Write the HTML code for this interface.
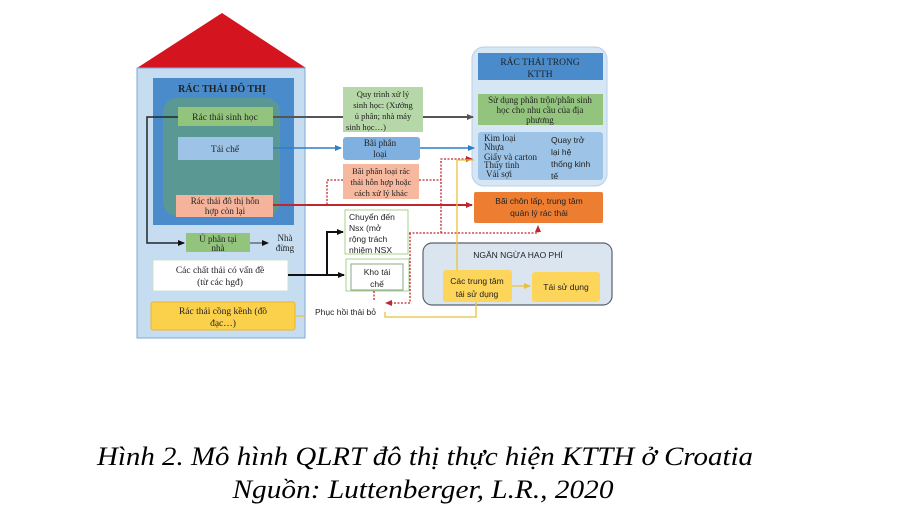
<!DOCTYPE html>
<html><head><meta charset="utf-8"><style>
html,body{margin:0;padding:0;background:#fff;width:899px;height:519px;overflow:hidden}
svg{display:block}
text{font-family:"Liberation Serif","Noto Serif CJK SC",serif;fill:#222}
.s{font-family:"Liberation Sans","Noto Sans CJK SC",sans-serif}
</style></head><body>
<svg width="899" height="519" viewBox="0 0 899 519" xmlns="http://www.w3.org/2000/svg">
<defs>
<marker id="ak" markerUnits="userSpaceOnUse" markerWidth="7" markerHeight="7" refX="6" refY="3.5" orient="auto"><path d="M0,0.5 L7,3.5 L0,6.5z" fill="#111"/></marker>
<marker id="ag" markerUnits="userSpaceOnUse" markerWidth="7" markerHeight="7" refX="6" refY="3.5" orient="auto"><path d="M0,0.5 L7,3.5 L0,6.5z" fill="#555"/></marker>
<marker id="ab" markerUnits="userSpaceOnUse" markerWidth="7" markerHeight="7" refX="6" refY="3.5" orient="auto"><path d="M0,0.5 L7,3.5 L0,6.5z" fill="#2f7fc8"/></marker>
<marker id="ar" markerUnits="userSpaceOnUse" markerWidth="7" markerHeight="7" refX="6" refY="3.5" orient="auto"><path d="M0,0.5 L7,3.5 L0,6.5z" fill="#c0262d"/></marker>
<marker id="ay" markerUnits="userSpaceOnUse" markerWidth="7" markerHeight="7" refX="6" refY="3.5" orient="auto"><path d="M0,0.5 L7,3.5 L0,6.5z" fill="#e8c23a"/></marker>
</defs>
<polygon points="137,68 222,13 306,68" fill="#d4151f"/>
<rect x="137" y="68" width="168" height="270" fill="#c5dcf1" stroke="#7fa9d6" stroke-width="1"/>
<rect x="153" y="78" width="141" height="147" fill="#4a8bcc"/>
<text x="222" y="92" font-size="10" text-anchor="middle" font-weight="bold">RÁC THẢI ĐÔ THỊ</text>
<rect x="163" y="98" width="117" height="118" rx="14" fill="#5a9893"/>
<rect x="178" y="107" width="95" height="19" fill="#93c47d"/>
<text x="225" y="120" font-size="9.5" text-anchor="middle">Rác thải sinh học</text>
<rect x="178" y="137" width="95" height="23" fill="#9dc3e6"/>
<text x="225" y="152" font-size="9.5" text-anchor="middle">Tái chế</text>
<rect x="176" y="195" width="97" height="22" fill="#f4b39a"/>
<text x="225" y="204" font-size="9" text-anchor="middle">Rác thải đô thị hỗn</text>
<text x="225" y="214" font-size="9" text-anchor="middle">hợp còn lại</text>
<rect x="186" y="233" width="64" height="19" fill="#93c47d"/>
<text x="218" y="242" font-size="9" text-anchor="middle">Ủ phân tại</text>
<text x="218" y="251" font-size="9" text-anchor="middle">nhà</text>
<text x="285" y="241" font-size="9" text-anchor="middle">Nhà</text>
<text x="285" y="251" font-size="9" text-anchor="middle">đừng</text>
<rect x="153" y="260" width="135" height="31" fill="#fff" stroke="#cde0cd"/>
<text x="220" y="273" font-size="9.5" text-anchor="middle">Các chất thải có vấn đề</text>
<text x="220" y="285" font-size="9.5" text-anchor="middle">(từ các hgđ)</text>
<rect x="151" y="302" width="144" height="28" rx="2" fill="#fbd04a" stroke="#e8b830"/>
<text x="223" y="314" font-size="9.5" text-anchor="middle">Rác thải cồng kềnh (đồ</text>
<text x="223" y="326" font-size="9.5" text-anchor="middle">đạc…)</text>
<rect x="343" y="87" width="80" height="45" fill="#b6d7a8"/>
<text x="383" y="97" font-size="8.5" text-anchor="middle">Quy trình xử lý</text>
<text x="383" y="108" font-size="8.5" text-anchor="middle">sinh học: (Xưởng</text>
<text x="383" y="119" font-size="8.5" text-anchor="middle">ủ phân; nhà máy</text>
<text x="366" y="130" font-size="8.5" text-anchor="middle">sinh học…)</text>
<rect x="343" y="137" width="77" height="23" rx="3" fill="#7fb0e0"/>
<text x="380" y="146" font-size="9" text-anchor="middle">Bãi phân</text>
<text x="380" y="157" font-size="9" text-anchor="middle">loại</text>
<rect x="343" y="164" width="76" height="35" fill="#f6b89e"/>
<text x="381" y="174" font-size="8.5" text-anchor="middle">Bãi phân loại rác</text>
<text x="381" y="185" font-size="8.5" text-anchor="middle">thải hỗn hợp hoặc</text>
<text x="381" y="196" font-size="8.5" text-anchor="middle">cách xử lý khác</text>
<rect x="345" y="210" width="63" height="44" fill="#fff" stroke="#a9d18e"/>
<text class="s" x="349" y="220" font-size="8.5">Chuyển đến</text>
<text class="s" x="349" y="231" font-size="8.5">Nsx      (mở</text>
<text class="s" x="349" y="242" font-size="8.5">rộng   trách</text>
<text class="s" x="349" y="253" font-size="8.5">nhiệm NSX</text>
<rect x="346" y="259" width="63" height="32" fill="#fff" stroke="#a9d18e"/>
<rect x="351" y="264" width="52" height="26" fill="#fff" stroke="#8aa88a"/>
<text class="s" x="377" y="275" font-size="8.5" text-anchor="middle">Kho tái</text>
<text class="s" x="377" y="287" font-size="8.5" text-anchor="middle">chế</text>
<text class="s" x="315" y="315" font-size="8.5">Phục hồi thải bỏ</text>
<rect x="472" y="47" width="135" height="139" rx="12" fill="#d7e6f4" stroke="#b8cfe6"/>
<rect x="478" y="53" width="125" height="27" fill="#4a8bcc"/>
<text x="540" y="65" font-size="9.5" text-anchor="middle">RÁC THẢI TRONG</text>
<text x="540" y="77" font-size="9.5" text-anchor="middle">KTTH</text>
<rect x="478" y="94" width="125" height="31" fill="#93c47d"/>
<text x="540" y="103" font-size="9" text-anchor="middle">Sử dụng phân trộn/phân sinh</text>
<text x="540" y="113" font-size="9" text-anchor="middle">học cho nhu cầu của địa</text>
<text x="540" y="123" font-size="9" text-anchor="middle">phương</text>
<rect x="478" y="132" width="125" height="48" rx="3" fill="#9dc3e6"/>
<text x="484" y="141" font-size="9">Kim loại</text>
<text x="484" y="150" font-size="9">Nhựa</text>
<text x="484" y="160" font-size="9">Giấy và carton</text>
<text x="484" y="168" font-size="9">Thủy tinh</text>
<text x="486" y="177" font-size="9">Vải sợi</text>
<text class="s" x="551" y="143" font-size="8.5">Quay    trở</text>
<text class="s" x="551" y="155" font-size="8.5">lại         hệ</text>
<text class="s" x="551" y="167" font-size="8.5">thống kinh</text>
<text class="s" x="551" y="179" font-size="8.5">tế</text>
<rect x="474" y="192" width="129" height="31" rx="2" fill="#ed7d31"/>
<text class="s" x="539" y="204" font-size="8.5" text-anchor="middle">Bãi chôn lấp, trung tâm</text>
<text class="s" x="539" y="216" font-size="8.5" text-anchor="middle">quản lý rác thải</text>
<rect x="423" y="243" width="189" height="62" rx="9" fill="#dbe5f0" stroke="#5a6270" stroke-width="1.2"/>
<text class="s" x="518" y="258" font-size="8.5" text-anchor="middle">NGĂN NGỪA HAO PHÍ</text>
<rect x="443" y="270" width="69" height="32" rx="3" fill="#fdd55a"/>
<text class="s" x="477" y="284" font-size="8.5" text-anchor="middle">Các trung tâm</text>
<text class="s" x="477" y="297" font-size="8.5" text-anchor="middle">tái sử dụng</text>
<rect x="532" y="272" width="68" height="30" rx="3" fill="#fdd55a"/>
<text class="s" x="566" y="290" font-size="8.5" text-anchor="middle">Tái sử dụng</text>
<g fill="none">
<path d="M273,117 H343" stroke="#555" stroke-width="2"/>
<path d="M423,117 H473" stroke="#555" stroke-width="2" marker-end="url(#ag)"/>
<path d="M178,117 H147 V243 H184" stroke="#1e2a2a" stroke-width="1.5" marker-end="url(#ak)"/>
<path d="M250,243 H268" stroke="#333" stroke-width="1" marker-end="url(#ak)"/>
<path d="M273,148 H341" stroke="#2f7fc8" stroke-width="1.5" marker-end="url(#ab)"/>
<path d="M420,148 H474" stroke="#2f7fc8" stroke-width="1.5" marker-end="url(#ab)"/>
<path d="M273,205 H472" stroke="#c0262d" stroke-width="2" marker-end="url(#ar)"/>
<path d="M288,275 H344" stroke="#111" stroke-width="2" marker-end="url(#ak)"/>
<path d="M327,276 V232 H343" stroke="#111" stroke-width="2" marker-end="url(#ak)"/>
<g stroke="#c0262d" stroke-width="1.3" stroke-dasharray="2,1.5">
<path d="M343,180 H327 V205"/>
<path d="M419,180 H441"/>
<path d="M441,233 V159 H472" marker-end="url(#ar)"/>
<path d="M409,233 H538 V226" marker-end="url(#ar)"/>
<path d="M410,233 V303 H386" marker-end="url(#ar)"/>
<path d="M374,291 V301"/>
</g>
<path d="M457,270 V160 H474" stroke="#e8c23a" stroke-width="1.3"/>
<path d="M476,302 V317 H385 V312" stroke="#e8c23a" stroke-width="1.3"/>
<path d="M512,286 H530" stroke="#e8c23a" stroke-width="1.3" marker-end="url(#ay)"/>
<path d="M295,316 H305" stroke="#e8c23a" stroke-width="1.3"/>
</g>
<text x="425" y="465" font-size="26" font-style="italic" text-anchor="middle" textLength="656" lengthAdjust="spacingAndGlyphs" style="fill:#000">Hình 2. Mô hình QLRT đô thị thực hiện KTTH ở Croatia</text>
<text x="423" y="498" font-size="26" font-style="italic" text-anchor="middle" textLength="381" lengthAdjust="spacingAndGlyphs" style="fill:#000">Nguồn: Luttenberger, L.R., 2020</text>
</svg>
</body></html>
